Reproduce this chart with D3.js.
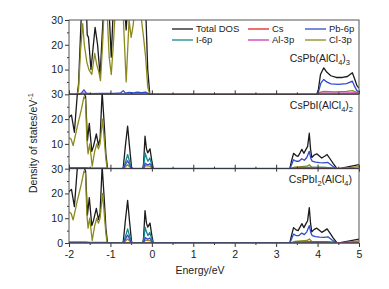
<!DOCTYPE html>
<html>
<head>
<meta charset="utf-8">
<script src="https://cdn.jsdelivr.net/npm/d3@7"></script>
<style>
  body { margin: 0; background: #fff; }
  text { font-family: "Liberation Sans", Arial, sans-serif; fill: #222; }
</style>
</head>
<body>
<div id="chart"></div>
<script>
// series names + colours (legend order)
var seriesNames = ['Total DOS', 'Cs', 'Pb-6p', 'I-6p', 'Al-3p', 'Cl-3p']
var seriesColors = ['#1b1b1b', '#e8231f', '#2f4ccc', '#15898d', '#cc36b8', '#8c8a1c']
var panelLabels = [
    [['CsPb(AlCl', ''], ['4', 'sub'], [')', ''], ['3', 'sub']],
    [['CsPbI(AlCl', ''], ['4', 'sub'], [')', ''], ['2', 'sub']],
    [['CsPbI', ''], ['2', 'sub'], ['(AlCl', ''], ['4', 'sub'], [')', '']]
]
var xTicks = [-2, -1, 0, 1, 2, 3, 4, 5]
var xMinor = [-1.5, -0.5, 0.5, 1.5, 2.5, 3.5, 4.5]
var yTicks = [10, 20, 30]
var yMinor = [5, 15, 25]

// CsPb(AlCl4)3  -- [energy eV, DOS]
var p1Total = [[-2,0],[-1.80,0],[-1.77,4],[-1.72,25],[-1.68,40],[-1.60,45],[-1.56,24],[-1.53,23],[-1.47,10],[-1.37,27],[-1.31,20],[-1.25,7.5],[-1.18,30],[-1.12,45],[-1.05,40],[-0.98,15],[-0.93,35],[-0.85,45],[-0.70,45],[-0.62,26],[-0.55,45],[-0.30,45],[-0.20,40],[-0.14,30],[-0.10,10],[-0.05,0],[3.98,0],[4.02,2],[4.07,8],[4.15,10.7],[4.22,9],[4.32,7.5],[4.45,6.8],[4.6,6.8],[4.72,7.2],[4.84,8.7],[4.9,6],[4.95,3.5],[5.0,2.5]]
var p1Cs = [[-2,0],[-1.78,0],[-1.65,0.4],[-1.5,0.2],[-0.05,0.2],[0,0],[3.98,0],[4.1,0.2],[5,0.3]]
var p1Pb = [[-2,0],[-1.80,0],[-1.70,0.5],[-1.64,1.8],[-1.58,0.5],[-1.50,0.3],[-1.2,0.4],[-0.9,0.4],[-0.75,0.6],[-0.69,1.5],[-0.64,0.5],[-0.55,0.8],[-0.45,0.6],[-0.35,0.9],[-0.25,0.7],[-0.15,0.9],[-0.08,0.3],[-0.05,0],[3.98,0],[4.03,1.5],[4.08,4.5],[4.15,6],[4.22,5],[4.32,4.2],[4.5,4],[4.7,4.3],[4.84,5.3],[4.9,3],[4.95,1.5],[5.0,1]]
var p1I = []
var p1Al = [[-2,0],[-1.78,0],[-1.65,0.5],[-1.55,0.3],[-0.1,0.3],[-0.05,0],[3.98,0],[4.05,0.5],[4.5,0.5],[4.9,0.6],[5,0.4]]
var p1Cl = [[-2,0],[-1.80,0],[-1.77,2],[-1.72,18],[-1.67,28.5],[-1.63,20],[-1.57,13],[-1.52,10],[-1.45,8],[-1.38,16.5],[-1.33,12],[-1.28,9],[-1.24,5.5],[-1.19,20],[-1.15,35],[-1.08,33],[-1.03,15],[-0.98,8],[-0.93,20],[-0.88,35],[-0.78,40],[-0.70,35],[-0.62,5],[-0.55,30],[-0.50,23],[-0.45,28],[-0.40,38],[-0.30,40],[-0.25,30],[-0.20,23],[-0.15,15],[-0.10,3],[-0.05,0],[3.98,0],[4.05,0.8],[4.15,1.2],[4.4,1],[4.7,1.2],[4.84,1.5],[4.95,0.8],[5,0.6]]

// CsPbI(AlCl4)2
var p2Total = [[-2,20.5],[-1.975,21.2],[-1.94,21.6],[-1.87,14.7],[-1.80,30],[-1.72,32],[-1.65,31],[-1.60,29],[-1.555,11.3],[-1.51,18.3],[-1.45,7],[-1.41,9],[-1.34,14],[-1.29,9.5],[-1.25,12],[-1.20,31],[-1.15,18],[-1.11,6],[-1.07,0],[-0.72,0],[-0.69,0.5],[-0.64,9],[-0.585,17.2],[-0.54,9],[-0.49,0.5],[-0.46,0],[-0.22,0],[-0.20,2],[-0.165,13.1],[-0.13,8],[-0.10,6.4],[-0.045,8],[0.0,3],[0.035,0],[3.33,0],[3.37,3],[3.42,6.2],[3.48,5.3],[3.53,5],[3.58,6.5],[3.62,7.8],[3.67,6.2],[3.72,7.8],[3.76,9],[3.80,14.3],[3.83,8],[3.86,4.5],[3.92,5.5],[3.98,6],[4.05,5],[4.10,4.3],[4.17,5],[4.23,5.7],[4.30,4],[4.38,2],[4.47,0],[4.55,0.1],[5.0,1.6]]
var p2Cs = [[-2,0.1],[5,0.1]]
var p2Pb = [[-2,0.3],[-1.6,0.3],[-1.5,0.1],[-1.07,0],[-0.69,0],[-0.585,3.2],[-0.49,0],[-0.2,0],[-0.16,2.2],[-0.1,1.5],[-0.05,2],[0.03,0],[3.33,0],[3.37,1.5],[3.42,3.6],[3.48,3],[3.55,3],[3.62,4],[3.68,3.4],[3.74,4.5],[3.80,7],[3.84,4],[3.87,3],[3.95,2.6],[4.05,2.4],[4.15,2.3],[4.25,2.5],[4.35,1.2],[4.45,0]]
var p2I = [[-2,0.2],[-1.1,0.2],[-1.07,0],[-0.69,0],[-0.63,3],[-0.585,5.7],[-0.54,3],[-0.49,0],[-0.22,0],[-0.2,1],[-0.16,6.3],[-0.13,4.5],[-0.095,3],[-0.05,4.3],[0,1.5],[0.035,0],[3.33,0],[3.5,0.4],[3.8,0.5],[4.2,0.5],[4.45,0]]
var p2Al = [[-2,0.1],[-1.07,0.1],[-1.0,0],[3.33,0],[3.5,0.2],[4.45,0.1],[5,0.1]]
var p2Cl = [[-2,12.5],[-1.95,12],[-1.90,9.3],[-1.80,17],[-1.70,24],[-1.64,29],[-1.60,28],[-1.57,12],[-1.54,6],[-1.50,10],[-1.44,1],[-1.38,7],[-1.33,10],[-1.29,8],[-1.25,10],[-1.19,20],[-1.15,12],[-1.11,4],[-1.08,0],[-0.69,0],[-0.585,1.6],[-0.49,0],[-0.2,0],[-0.16,1.2],[-0.05,1],[0.03,0],[3.33,0],[3.45,0.6],[3.6,0.8],[3.75,1],[3.80,1.6],[3.86,0.6],[4.1,0.5],[4.4,0.3],[4.47,0],[4.55,0],[5,0.8]]

// CsPbI2(AlCl4) looks the same as the middle panel in the figure
var p3Total = p2Total, p3Cs = p2Cs, p3Pb = p2Pb, p3I = p2I, p3Al = p2Al, p3Cl = p2Cl

var panels = [
    [p1Total, p1Cs, p1Pb, p1I, p1Al, p1Cl],
    [p2Total, p2Cs, p2Pb, p2I, p2Al, p2Cl],
    [p3Total, p3Cs, p3Pb, p3I, p3Al, p3Cl]
]
var drawOrder = [0, 5, 1, 4, 3, 2]

var width = 389, height = 289,
    plotL = 69, plotR = 359, plotT = 20, plotB = 243,
    panelH = (plotB - plotT) / 3;

var svg = d3.select('#chart').append('svg')
    .attr('width', width).attr('height', height)

var x = d3.scaleLinear().domain([-2, 5]).range([plotL, plotR])

panels.forEach(function (series, p) {
    var pTop = plotT + p * panelH, pBot = pTop + panelH
    var y = d3.scaleLinear().domain([0, 30]).range([pBot, pTop])

    svg.append('clipPath').attr('id', 'clip' + p)
        .append('rect').attr('x', plotL).attr('y', pTop)
        .attr('width', plotR - plotL).attr('height', panelH)

    var line = d3.line().x(d => x(d[0])).y(d => y(d[1]))
    var g = svg.append('g').attr('clip-path', 'url(#clip' + p + ')')
    drawOrder.forEach(function (k) {
        if (!series[k].length) return
        g.append('path')
            .datum(series[k])
            .attr('d', line)
            .attr('fill', 'none')
            .attr('stroke', seriesColors[k])
            .attr('stroke-width', 1.3)
            .attr('stroke-linejoin', 'round')
    })

    // y axis
    var yAx = svg.append('g').attr('class', 'y axis')
        .attr('transform', `translate(${plotL},0)`)
        .call(d3.axisLeft(y).tickValues(p == 2 ? [0].concat(yTicks) : yTicks)
            .tickSize(4).tickSizeOuter(0).tickPadding(2))
    yAx.select('.domain').remove()
    yAx.selectAll('text').style('font-size', '10.5px')
    var yMin = svg.append('g')
        .attr('transform', `translate(${plotL},0)`)
        .call(d3.axisLeft(y).tickValues(yMinor).tickSize(2).tickSizeOuter(0).tickFormat(''))
    yMin.select('.domain').remove()

    // x ticks on each panel bottom
    var majorUp = d3.axisBottom(x).tickValues(xTicks).tickFormat(d => String(d))
        .tickSize(p == 2 ? 4 : -4).tickSizeOuter(0)
    var xa = svg.append('g').attr('transform', `translate(0,${pBot})`).call(majorUp)
    xa.select('.domain').remove()
    if (p < 2) xa.selectAll('text').remove()
    var xm = svg.append('g').attr('transform', `translate(0,${pBot})`)
        .call(d3.axisBottom(x).tickValues(xMinor).tickSize(p == 2 ? 2 : -2).tickSizeOuter(0).tickFormat(''))
    xm.select('.domain').remove()
    if (p == 1) {
        var xd = svg.append('g').attr('transform', `translate(0,${pBot})`)
            .call(d3.axisBottom(x).tickValues(xTicks).tickSize(3).tickSizeOuter(0).tickFormat(''))
        xd.select('.domain').remove()
    }
    if (p == 2) xa.selectAll('text').style('font-size', '10.5px').attr('y', 7).attr('dy', '0.75em')

    // separator line
    svg.append('line')
        .attr('x1', plotL).attr('x2', plotR).attr('y1', pBot).attr('y2', pBot)
        .attr('stroke', '#333').attr('stroke-width', 1)

    // compound label
    var lbl = svg.append('text')
        .attr('x', [350, 353, 352][p])
        .attr('y', [62, 108.5, 183][p])
        .attr('text-anchor', 'end')
        .style('font-size', '10.5px')
    panelLabels[p].forEach(function (part, i) {
        var t = lbl.append('tspan').text(part[0])
        if (part[1] == 'sub') t.attr('dy', 3).style('font-size', '7.5px')
        else if (i > 0 && panelLabels[p][i - 1][1] == 'sub') t.attr('dy', -3)
    })
})

d3.selectAll('.tick line').attr('stroke', '#333')

// frame
svg.append('rect')
    .attr('x', plotL).attr('y', plotT)
    .attr('width', plotR - plotL).attr('height', plotB - plotT)
    .attr('fill', 'none').attr('stroke', '#555').attr('stroke-width', 1)

// legend
var legend = svg.append('g').attr('class', 'legend')
var colX = [172, 248, 305], rowY = [29, 40]
seriesNames.forEach(function (name, i) {
    var cx = colX[i % 3], cy = rowY[Math.floor(i / 3)]
    legend.append('line')
        .attr('x1', cx).attr('x2', cx + 21).attr('y1', cy).attr('y2', cy)
        .attr('stroke', seriesColors[i]).attr('stroke-width', 1.3)
    legend.append('text')
        .attr('x', cx + 24).attr('y', cy + 3.3)
        .style('font-size', '9.5px')
        .text(name)
})

// axis titles
svg.append('text')
    .attr('x', 200).attr('y', 274)
    .attr('text-anchor', 'middle')
    .style('font-size', '10.5px')
    .text('Energy/eV')

var yt = svg.append('text')
    .attr('transform', 'translate(37,143) rotate(-90)')
    .attr('text-anchor', 'middle')
    .style('font-size', '10.5px')
yt.append('tspan').text('Density of states/eV')
yt.append('tspan').attr('dy', -4).style('font-size', '7.5px').text('-1')
</script>
</body>
</html>
